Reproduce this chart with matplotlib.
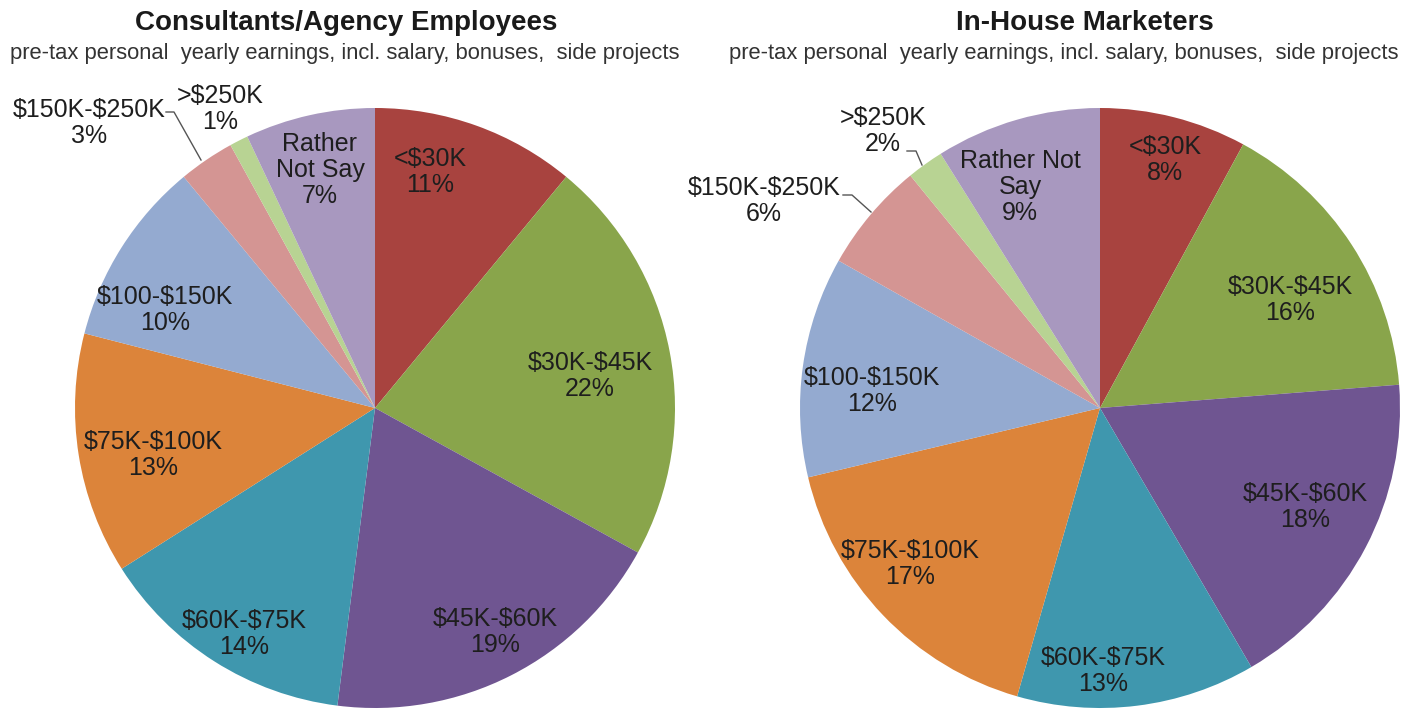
import matplotlib
matplotlib.use("Agg")
import matplotlib.pyplot as plt

plt.rcParams['font.family'] = ['Liberation Sans', 'DejaVu Sans']
plt.rcParams['text.parse_math'] = False

categories = ["<$30K", "$30K-$45K", "$45K-$60K", "$60K-$75K", "$75K-$100K",
              "$100-$150K", "$150K-$250K", ">$250K", "Rather Not Say"]
consultants = [11, 22, 19, 14, 13, 10, 3, 1, 7]
inhouse = [8, 16, 18, 13, 17, 12, 6, 2, 9]

colors = ["#A8433F", "#89A54B", "#6F5591", "#3F97AE", "#DC843A",
          "#94AAD0", "#D49593", "#B8D393", "#A898BF"]

titles = ["Consultants/Agency Employees", "In-House Marketers"]
subtitle = "pre-tax personal  yearly earnings, incl. salary, bonuses,  side projects"

left_names = ["<$30K", "$30K-$45K", "$45K-$60K", "$60K-$75K", "$75K-$100K",
              "$100-$150K", "$150K-$250K", ">$250K", "Rather\nNot Say"]
right_names = ["<$30K", "$30K-$45K", "$45K-$60K", "$60K-$75K", "$75K-$100K",
               "$100-$150K", "$150K-$250K", ">$250K", "Rather Not\nSay"]

# label positions in pixels (layout only)
left_pos = [(430, 172), (590, 376), (495, 632), (244, 634), (153, 455),
            (165, 310), (89, 123), (220, 109), (320, 170)]
right_pos = [(1165, 160), (1290, 300), (1305, 507), (1103, 671), (910, 564),
             (872, 391), (764, 201), (883, 131), (1020, 187)]

W, H = 1415, 711
fig = plt.figure(figsize=(W / 100, H / 100), dpi=100)

R = 300
centers = [(375, 408), (1100, 408)]
datas = [consultants, inhouse]
names = [left_names, right_names]
poss = [left_pos, right_pos]
# leader lines: (label index, [(x,y) pixel points])
leaders = [
    [(6, [(166, 112), (174, 112), (201, 160)])],
    [(6, [(843, 195), (852, 195), (871, 212)]),
     (7, [(907, 151), (916, 151), (922, 165)])],
]

for k in range(2):
    cx, cy = centers[k]
    ax = fig.add_axes([(cx - R) / W, (H - cy - R) / H, 2 * R / W, 2 * R / H])
    ax.pie(datas[k], colors=colors, startangle=90, counterclock=False,
           radius=1, wedgeprops=dict(linewidth=0))
    ax.set_xlim(-1, 1)
    ax.set_ylim(-1, 1)
    ax.set_aspect('auto')
    ax.axis('off')
    tot = sum(datas[k])
    for i, (nm, v) in enumerate(zip(names[k], datas[k])):
        px, py = poss[k][i]
        x = (px - cx) / R
        y = (cy - py) / R
        ax.text(x, y, f"{nm}\n{round(v * 100 / tot)}%", ha='center', va='center',
                fontsize=18, color='#1e1e1e', linespacing=1.08, clip_on=False)
    for idx, pts in leaders[k]:
        xs = [(p[0] - cx) / R for p in pts]
        ys = [(cy - p[1]) / R for p in pts]
        ax.plot(xs, ys, color='#555555', lw=1, clip_on=False)

fig.text(346 / W, 1 - 23 / H, titles[0], ha='center', va='center',
         fontsize=20, fontweight='bold', color='#1a1a1a')
fig.text(345 / W, 1 - 53 / H, subtitle, ha='center', va='center',
         fontsize=15.8, color='#333333')
fig.text(1085 / W, 1 - 23 / H, titles[1], ha='center', va='center',
         fontsize=20, fontweight='bold', color='#1a1a1a')
fig.text(1064 / W, 1 - 53 / H, subtitle, ha='center', va='center',
         fontsize=15.8, color='#333333')

fig.savefig("out.png", dpi=100, facecolor='white')
